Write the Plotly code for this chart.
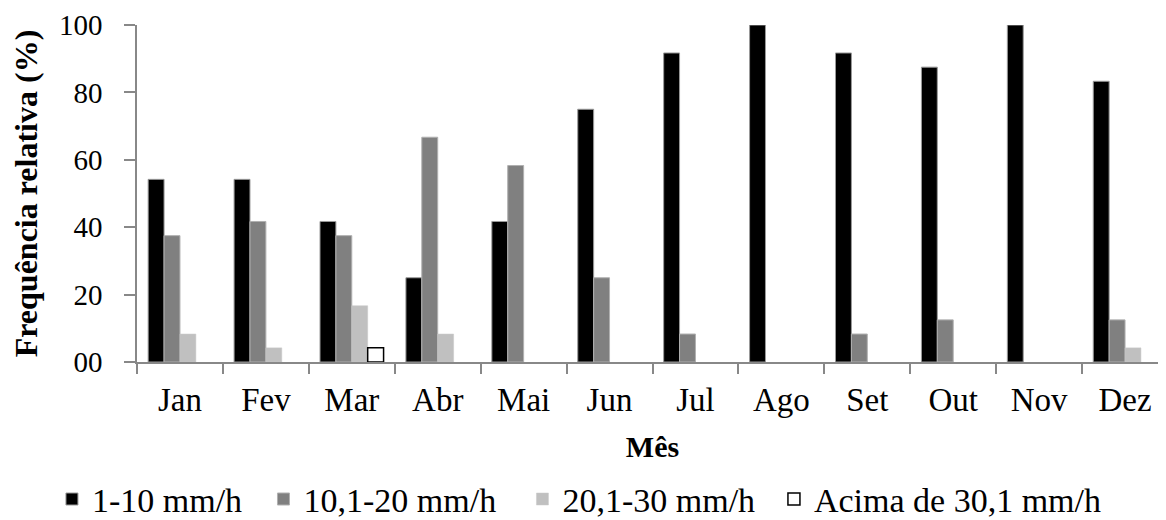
import plotly.graph_objects as go

months = ["Jan", "Fev", "Mar", "Abr", "Mai", "Jun", "Jul", "Ago", "Set", "Out", "Nov", "Dez"]
s1_10 = [54.2, 54.2, 41.7, 25.0, 41.7, 75.0, 91.7, 100.0, 91.7, 87.5, 100.0, 83.3]
s10_20 = [37.5, 41.7, 37.5, 66.7, 58.3, 25.0, 8.3, None, 8.3, 12.5, None, 12.5]
s20_30 = [8.3, 4.2, 16.7, 8.3, None, None, None, None, None, None, None, 4.2]
s30_up = [None, None, 4.2, None, None, None, None, None, None, None, None, None]
y_tickvals = [0, 20, 40, 60, 80, 100]
y_ticktext = ["00", "20", "40", "60", "80", "100"]

FONT = "Liberation Serif, Times New Roman, DejaVu Serif, serif"

fig = go.Figure()
fig.add_bar(x=months, y=s1_10, name="1-10 mm/h", legend="legend",
            marker=dict(color="#000000", line=dict(color="#9a9a9a", width=1)))
fig.add_bar(x=months, y=s10_20, name="10,1-20 mm/h", legend="legend2",
            marker=dict(color="#808080", line=dict(color="#b0b0b0", width=1)))
fig.add_bar(x=months, y=s20_30, name="20,1-30 mm/h", legend="legend3",
            marker=dict(color="#c0c0c0", line=dict(color="#c8c8c8", width=0.5)))
fig.add_bar(x=months, y=s30_up, name="Acima de 30,1 mm/h", legend="legend4",
            marker=dict(color="#ffffff", line=dict(color="#000000", width=1.5)))


def leg(xpos):
    return dict(orientation="h", xref="container", yref="container",
                x=xpos, y=0.055, xanchor="left", yanchor="middle",
                font=dict(family=FONT, size=34), itemwidth=30,
                bgcolor="rgba(0,0,0,0)")


fig.update_layout(
    width=1166, height=520,
    margin=dict(l=129, r=6, t=17, b=166, autoexpand=False),
    paper_bgcolor="white", plot_bgcolor="white",
    barmode="group", bargap=0.26, bargroupgap=0,
    font=dict(family=FONT, size=32, color="#000000"),
    showlegend=True,
    legend=leg(0.0377), legend2=leg(0.2191), legend3=leg(0.4412), legend4=leg(0.6569),
    xaxis=dict(
        automargin=False,
        showline=True, linecolor="#888888", linewidth=1.5,
        ticks="outside", ticklen=10, tickcolor="#888888", tickwidth=1.5,
        tickson="boundaries", showgrid=False,
        tickfont=dict(family=FONT, size=33),
        ticklabelstandoff=8,
        title=dict(text="<b>Mês</b>", font=dict(family=FONT, size=30), standoff=19),
    ),
    yaxis=dict(
        automargin=False,
        range=[0, 100], tickvals=y_tickvals, ticktext=y_ticktext,
        ticklabeloverflow="allow",
        showline=True, linecolor="#888888", linewidth=1.5,
        ticks="outside", ticklen=11, tickcolor="#888888", tickwidth=1.5,
        showgrid=False, zeroline=False,
        tickfont=dict(family=FONT, size=29),
        ticklabelstandoff=16,
        title=dict(text="<b>Frequência relativa (%)</b>", font=dict(family=FONT, size=32), standoff=24),
    ),
)

fig.write_html("out.html")
